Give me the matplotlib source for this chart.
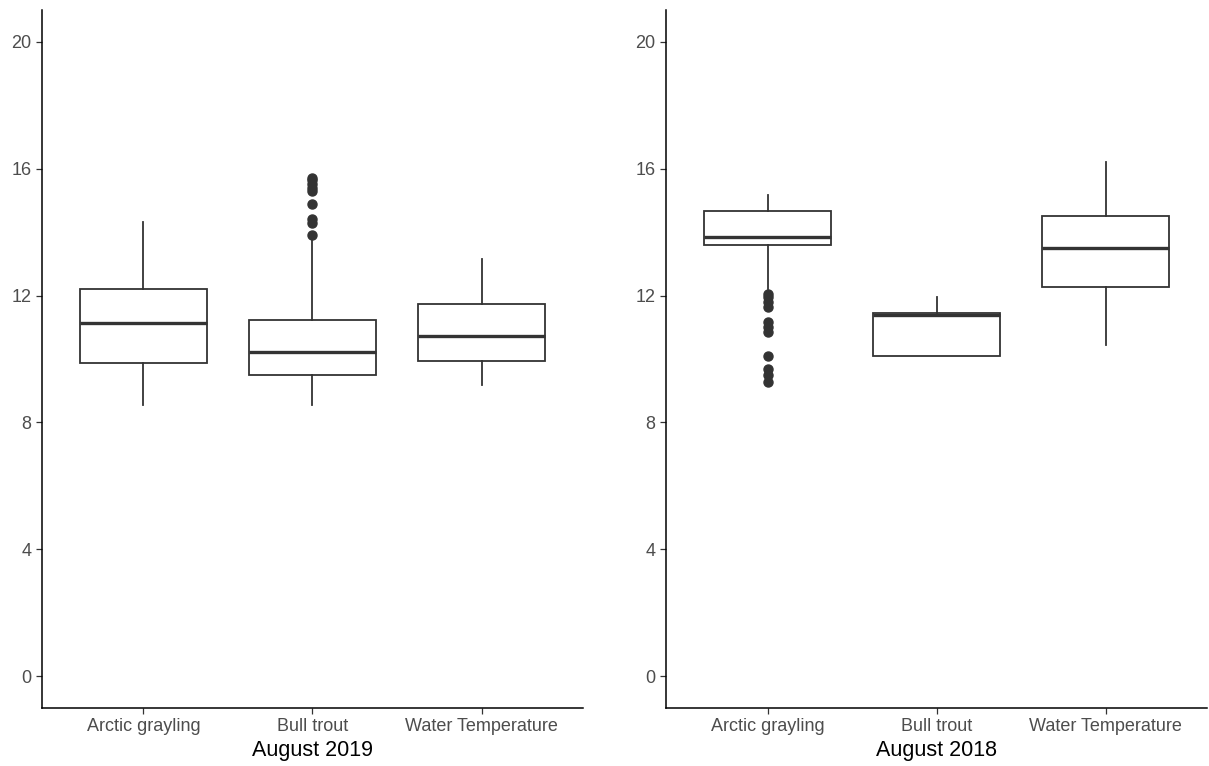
import matplotlib.pyplot as plt

plt.rcParams['font.family'] = ['Liberation Sans', 'DejaVu Sans']

categories = ["Arctic grayling", "Bull trout", "Water Temperature"]

# August 2019 box statistics
med_2019 = [11.12, 10.23, 10.74]
q1_2019 = [9.86, 9.48, 9.95]
q3_2019 = [12.22, 11.24, 11.74]
lo_2019 = [8.54, 8.54, 9.19]
hi_2019 = [14.33, 13.76, 13.16]
out_2019 = [[], [13.92, 14.3, 14.4, 14.9, 15.3, 15.4, 15.5, 15.65, 15.7], []]

# August 2018 box statistics
med_2018 = [13.86, 11.4, 13.49]
q1_2018 = [13.6, 10.08, 12.28]
q3_2018 = [14.65, 11.44, 14.5]
lo_2018 = [12.2, 10.08, 10.43]
hi_2018 = [15.18, 11.94, 16.22]
out_2018 = [[12.06, 11.95, 11.8, 11.63, 11.16, 11.0, 10.84, 10.1, 9.7, 9.48, 9.26], [], []]

y_ticks = [0, 4, 8, 12, 16, 20]


def make_stats(med, q1, q3, lo, hi, out):
    stats = []
    for i in range(len(categories)):
        stats.append(dict(med=med[i], q1=q1[i], q3=q3[i], whislo=lo[i],
                          whishi=hi[i], fliers=out[i], label=categories[i]))
    return stats


def draw(ax, stats, title):
    ec = "#333333"
    ax.bxp(stats, positions=[1, 2, 3], widths=0.75, showcaps=False,
           patch_artist=True,
           boxprops=dict(facecolor="white", edgecolor=ec, linewidth=1.3),
           medianprops=dict(color=ec, linewidth=2.4),
           whiskerprops=dict(color=ec, linewidth=1.3),
           flierprops=dict(marker="o", markerfacecolor=ec, markeredgecolor=ec,
                           markersize=6.5))
    ax.set_xlim(0.4, 3.6)
    ax.set_ylim(-1, 21)
    ax.set_yticks(y_ticks)
    ax.set_xticks([1, 2, 3])
    ax.set_xticklabels(categories)
    ax.tick_params(colors="#333333", labelcolor="#4d4d4d", labelsize=13,
                   length=4, width=0.9)
    for s in ["top", "right"]:
        ax.spines[s].set_visible(False)
    for s in ["left", "bottom"]:
        ax.spines[s].set_linewidth(1.1)
        ax.spines[s].set_color("black")
    ax.set_xlabel(title, fontsize=15.5, color="black", labelpad=3)


fig = plt.figure(figsize=(12.09, 7.66), dpi=100)
ax1 = fig.add_axes([0.0347, 0.0757, 0.4475, 0.9113])
ax2 = fig.add_axes([0.551, 0.0757, 0.4475, 0.9113])

draw(ax1, make_stats(med_2019, q1_2019, q3_2019, lo_2019, hi_2019, out_2019), "August 2019")
draw(ax2, make_stats(med_2018, q1_2018, q3_2018, lo_2018, hi_2018, out_2018), "August 2018")

fig.savefig("out.png", dpi=100)
